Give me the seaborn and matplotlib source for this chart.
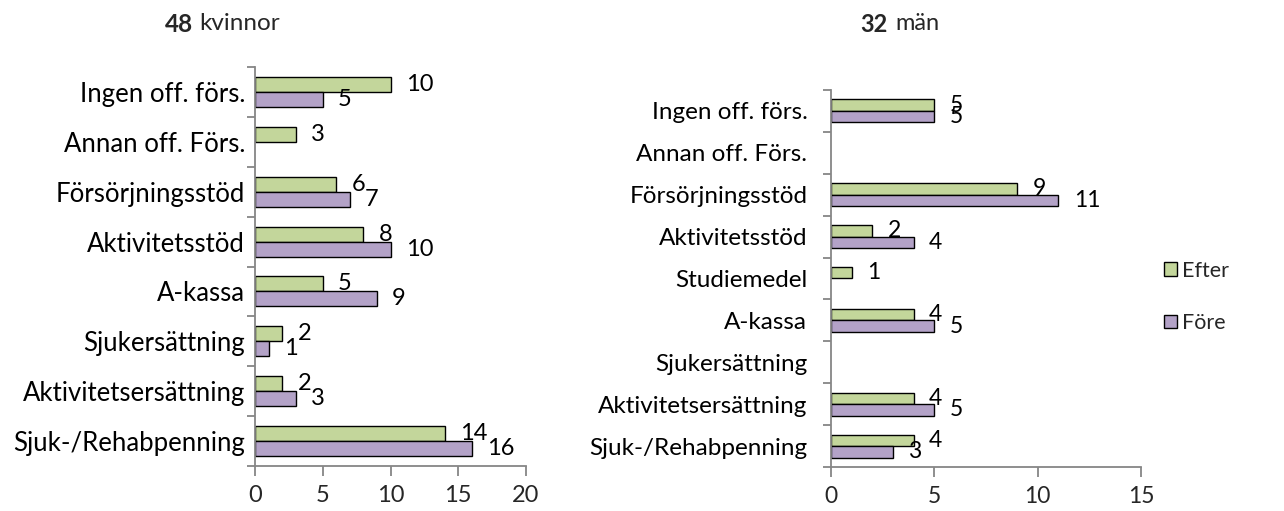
import numpy as np
import pandas as pd
import matplotlib
matplotlib.use("Agg")
import matplotlib.pyplot as plt
from matplotlib.patches import Patch
import seaborn as sns

# ---- data ----
women_categories = ["Ingen off. förs.", "Annan off. Förs.", "Försörjningsstöd", "Aktivitetsstöd",
                    "A-kassa", "Sjukersättning", "Aktivitetsersättning", "Sjuk-/Rehabpenning"]
women_efter = [10, 3, 6, 8, 5, 2, 2, 14]
women_fore = [5, np.nan, 7, 10, 9, 1, 3, 16]

men_categories = ["Ingen off. förs.", "Annan off. Förs.", "Försörjningsstöd", "Aktivitetsstöd",
                  "Studiemedel", "A-kassa", "Sjukersättning", "Aktivitetsersättning", "Sjuk-/Rehabpenning"]
men_efter = [5, np.nan, 9, 2, 1, 4, np.nan, 4, 4]
men_fore = [5, np.nan, 11, 4, np.nan, 5, np.nan, 5, 3]

series_names = ["Efter", "Före"]
women_title = ("48", "kvinnor")
men_title = ("32", "män")
women_xticks = [0, 5, 10, 15, 20]
men_xticks = [0, 5, 10, 15]

# ---- style ----
sns.set_style("white")
FONT = ["Lato", "DejaVu Sans"]
plt.rcParams["font.family"] = FONT

GREEN = "#C3D69B"
PURPLE = "#B3A2C7"
AXIS = "#868686"
palette = {"Efter": GREEN, "Före": PURPLE}

W, H = 1284, 511
fig = plt.figure(figsize=(W / 100, H / 100), dpi=100)


def px_axes(left, right, top, bottom):
    return fig.add_axes([left / W, 1 - bottom / H, (right - left) / W, (bottom - top) / H])


def make_df(cats, efter, fore):
    rows = []
    for c, e, f in zip(cats, efter, fore):
        rows.append((c, "Efter", e))
        rows.append((c, "Före", f))
    return pd.DataFrame(rows, columns=["cat", "serie", "value"]).dropna()


def draw(ax, cats, efter, fore, xmax, xticks, width, fs, pad, vfs):
    df = make_df(cats, efter, fore)
    sns.barplot(data=df, y="cat", x="value", hue="serie", order=cats, hue_order=series_names,
                palette=palette, orient="h", width=width, dodge=True, ax=ax,
                edgecolor="black", linewidth=1.0, saturation=1, legend=False)
    ax.set_xlim(0, xmax)
    ax.set_ylim(len(cats) - 0.5, -0.5)
    ax.set_xticks(xticks)
    ax.set_xlabel("")
    ax.set_ylabel("")
    ax.set_yticks(range(len(cats)))
    ax.set_yticklabels(cats)
    ax.set_yticks(np.arange(-0.5, len(cats), 1.0), minor=True)
    ax.tick_params(axis="y", which="major", length=0, pad=pad, labelsize=fs, colors="black")
    ax.tick_params(axis="y", which="minor", length=6, width=1.3, color=AXIS, direction="out", left=True)
    ax.tick_params(axis="x", which="major", length=7, width=1.3, color=AXIS, direction="out",
                   bottom=True, labelsize=vfs, pad=7)
    for s in ["top", "right"]:
        ax.spines[s].set_visible(False)
    for s in ["left", "bottom"]:
        ax.spines[s].set_color(AXIS)
        ax.spines[s].set_linewidth(1.3)
    # value labels
    off = width / 4
    for i, (e, f) in enumerate(zip(efter, fore)):
        for v, dy in ((e, -off), (f, off)):
            if not np.isnan(v):
                ax.annotate(f"{int(v)}", xy=(v, i + dy), xytext=(11, 0), textcoords="offset points",
                            ha="left", va="center", fontsize=vfs, color="black")


axL = px_axes(255, 526, 67, 466)
draw(axL, women_categories, women_efter, women_fore, 20, women_xticks, 0.6, 18.5, 7, 17)

axR = px_axes(831, 1141, 90, 467)
draw(axR, men_categories, men_efter, men_fore, 15, men_xticks, 0.55, 17.5, 17, 16.5)

# titles (bold number + normal word)
def title(xr, xl, num, word, fs):
    fig.text(xr / W, 1 - 24 / H, num, ha="right", va="center", fontsize=fs, fontweight="bold")
    fig.text(xl / W, 1 - 24 / H, word, ha="left", va="center", fontsize=fs)

title(193, 199, women_title[0], women_title[1], 17.5)
title(888, 895, men_title[0], men_title[1], 17)

handles = [Patch(facecolor=palette[n], edgecolor="black", linewidth=1.0, label=n) for n in series_names]
fig.legend(handles=handles, loc="center left", bbox_to_anchor=(1145 / W, 1 - 297 / H), frameon=False,
           fontsize=15.5, handlelength=0.6, handleheight=0.6, handletextpad=0.2, labelspacing=1.5)

fig.savefig("out.png", dpi=100)
